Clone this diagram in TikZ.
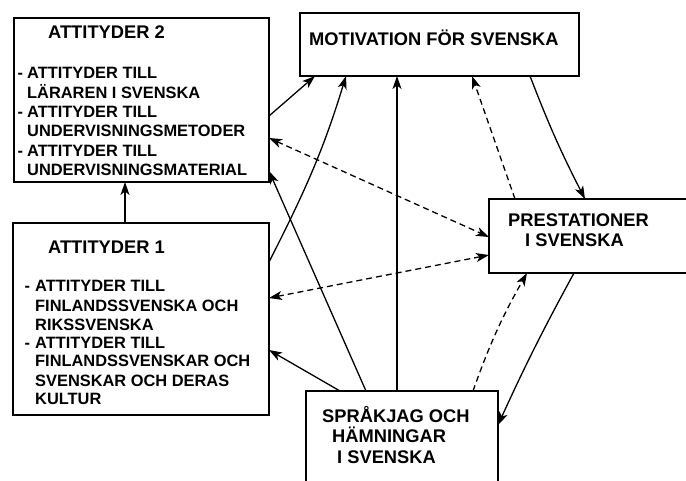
\documentclass[tikz,border=0pt]{standalone}
\usepackage{fontspec}
\setmainfont{Liberation Sans}
\usetikzlibrary{arrows.meta,calc}
\begin{document}
\begin{tikzpicture}[x=1pt,y=-1pt,
  box/.style={draw,line width=1.4pt,inner sep=0pt,outer sep=0pt},
  title/.style={anchor=base west,inner sep=0pt,font=\fontsize{18.3}{20}\selectfont\bfseries},
  body/.style={anchor=base west,inner sep=0pt,font=\fontsize{16.4}{19}\selectfont\bfseries},
  tip/.style={-{Stealth[length=13pt,width=9pt,inset=3.5pt]}},
  conn/.style={line width=1.3pt,tip},
  dconn/.style={line width=1.3pt,dash pattern=on 6pt off 4pt,
    {Stealth[length=13pt,width=9pt,inset=3.5pt]}-{Stealth[length=13pt,width=9pt,inset=3.5pt]}},
  sconn/.style={line width=1.3pt,dash pattern=on 6pt off 4pt,tip}]
\useasboundingbox (0,0) rectangle (686,480);
\clip (0,0) rectangle (686,480);
\fill[white] (0,0) rectangle (686,480);

% boxes
\node[box,minimum width=255pt,minimum height=164pt] (a2) at (141.5,100) {};
\node[box,minimum width=256pt,minimum height=192pt] (a1) at (141,319) {};
\node[box,minimum width=279pt,minimum height=63pt] (mot) at (439.5,44.5) {};
\node[box,minimum width=231pt,minimum height=74pt] (pre) at (604.5,236) {};
\node[box,minimum width=192pt,minimum height=110pt] (spr) at (402,446) {};

% texts
\node[title] (a2t) at (48,38.3) {ATTITYDER 2};
\node[body] (a2l1) at (27,78.4) {\llap{-\hspace{4pt}}ATTITYDER TILL};
\node[body] (a2l2) at (27,98.4) {LÄRAREN I SVENSKA};
\node[body] (a2l3) at (27,117.7) {\llap{-\hspace{4pt}}ATTITYDER TILL};
\node[body] (a2l4) at (27,136.7) {UNDERVISNINGSMETODER};
\node[body] (a2l5) at (27,156) {\llap{-\hspace{4pt}}ATTITYDER TILL};
\node[body] (a2l6) at (27,175) {UNDERVISNINGSMATERIAL};

\node[title] (a1t) at (48,253.3) {ATTITYDER 1};
\node[body] (a1l1) at (35,291.7) {\llap{-\hspace{5pt}}ATTITYDER TILL};
\node[body] (a1l2) at (35,311) {FINLANDSSVENSKA OCH};
\node[body] (a1l3) at (35,330) {RIKSSVENSKA};
\node[body] (a1l4) at (35,348.4) {\llap{-\hspace{5pt}}ATTITYDER TILL};
\node[body] (a1l5) at (35,366.7) {FINLANDSSVENSKAR OCH};
\node[body] (a1l6) at (35,386) {SVENSKAR OCH DERAS};
\node[body] (a1l7) at (35,404.4) {KULTUR};

\node[title] (mott) at (309,45) {MOTIVATION FÖR SVENSKA};
\node[title] (pret1) at (508,226) {PRESTATIONER};
\node[title] (pret2) at (525,246) {I SVENSKA};
\node[title] (sprt1) at (322,422) {SPRÅKJAG OCH};
\node[title] (sprt2) at (332,442) {HÄMNINGAR};
\node[title] (sprt3) at (337,463) {I SVENSKA};

% connectors
\draw[conn] ($(a1.north)+(-16,0)$) -- ($(a2.south)+(-16.5,0)$);
\draw[conn] ($(a2.north east)+(0,98)$) -- ($(mot.south west)+(15,0)$);
\draw[dconn] ($(a2.north east)+(0,120)$) -- ($(pre.north west)+(0,38)$);
\draw[conn] ($(a1.north east)+(0,39)$) to[out=63,in=-107] ($(mot.south west)+(46,0)$);
\draw[dconn] ($(a1.north east)+(0,75)$) -- ($(pre.north west)+(0,56)$);
\draw[conn] ($(spr.north west)+(34,0)$) -- ($(a1.north east)+(0,127)$);
\draw[conn] ($(spr.north west)+(60,0)$) -- ($(a2.south east)+(0,-11)$);
\draw[conn] ($(spr.north west)+(91,0)$) -- ($(mot.south west)+(97,0)$);
\draw[sconn] ($(spr.north west)+(167,0)$) to[bend left=5] ($(pre.south west)+(38,0)$);
\draw[sconn] ($(pre.north west)+(26,0)$) -- ($(mot.south west)+(172,0)$);
\draw[conn] ($(mot.south west)+(230,0)$) to[bend right=3] ($(pre.north west)+(96,0)$);
\draw[conn] ($(pre.south west)+(85,0)$) to[bend right=2] ($(spr.north east)+(0,34)$);
\end{tikzpicture}
\end{document}
